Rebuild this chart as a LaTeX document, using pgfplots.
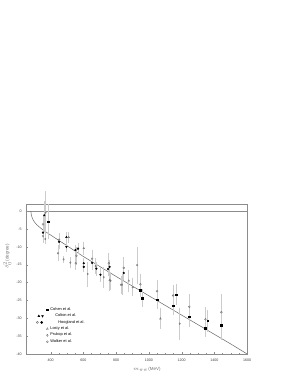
\documentclass[border=0pt]{standalone}
\usepackage{pgfplots}
\pgfplotsset{compat=1.18}
\usepackage{fontspec}
\setmainfont{Liberation Sans}
\definecolor{ebar}{gray}{0.8}
\definecolor{frame}{gray}{0.55}
\definecolor{opn}{gray}{0.45}
\begin{document}
\begin{tikzpicture}[x=1pt,y=1pt]
\path (0,0) rectangle (295,382);
\begin{axis}[
  at={(26pt,28pt)}, anchor=south west,
  width=221pt, height=150pt, scale only axis,
  xmin=250, xmax=1600, ymin=-40, ymax=2,
  xtick={400,600,...,1600}, ytick={0,-5,...,-40},
  minor x tick num=3, minor y tick num=4,
  tick pos=left, tick align=inside,
  major tick length=2pt, minor tick length=1pt,
  axis line style={frame, line width=0.4pt},
  every tick/.style={frame, line width=0.3pt},
  tick label style={font=\fontsize{3.6}{4}\selectfont, text=black!75},
  /pgf/number format/assume math mode=true,
  /pgf/number format/set thousands separator={},
  xticklabel style={yshift=-1pt},
  yticklabel style={xshift=-1pt},
  xlabel={$m_{\pi\pi}$(MeV)}, ylabel={$\delta_0^2$(degree)},
  label style={font=\fontsize{4.5}{5}\selectfont, text=black!55},
  xlabel style={at={(axis description cs:0.546,-0.1)}, anchor=center},
  ylabel style={at={(axis description cs:-0.085,0.65)}, anchor=center},
  clip=false,
  legend style={at={(rel axis cs:0.045,0.325)}, anchor=north west, draw=none, fill=none,
    font=\fontsize{3.9}{4.6}\selectfont, row sep=-1.9pt, inner sep=0pt},
  legend cell align=left,
  error bars/y dir=both, error bars/y explicit,
  error bars/error mark=none,
  error bars/error bar style={ebar, line width=0.8pt},
]
% legend entries
\addlegendimage{only marks, mark=square*, black, mark size=0.9pt}
\addlegendentry{Cohen et al.}
\addlegendimage{legend image code/.code={
  \draw[black,fill=black] plot[mark=triangle*,mark size=1.1pt] coordinates {(0.0cm,0cm)};
  \draw[black,fill=black] plot[mark=triangle*,mark size=1.1pt,mark options={rotate=180}] coordinates {(0.13cm,0cm)};}}
\addlegendentry{\hspace{5pt}Colton et al.}
\addlegendimage{legend image code/.code={
  \draw[opn] plot[mark=o,mark size=1.1pt] coordinates {(-0.05cm,0cm)};
  \draw[black,fill=black] plot[mark=*,mark size=1.1pt] coordinates {(0.1cm,0cm)};}}
\addlegendentry{\hspace{8pt}Hoogland et al.}
\addlegendimage{only marks, mark=triangle, opn, mark size=1.2pt}
\addlegendentry{Losty et al.}
\addlegendimage{only marks, mark=diamond, opn, mark size=1.1pt}
\addlegendentry{Prukop et al.}
\addlegendimage{only marks, mark=o, opn, mark size=1.0pt}
\addlegendentry{Walker et al.}
% zero line
\addplot[frame, line width=0.4pt, forget plot] coordinates {(250,0) (1600,0)};
% theory curve
\addplot[black!60, line width=0.5pt, smooth, forget plot] coordinates {
(279.1,0) (281,-0.9) (285,-1.6) (292,-2.4) (300,-3.0) (315,-3.8) (335,-4.6) (360,-5.5)
(400,-6.7) (450,-8.2) (500,-9.7) (600,-12.7) (700,-15.5) (800,-18.3) (900,-21.0)
(1000,-23.7) (1100,-26.4) (1200,-29.1) (1300,-31.8) (1400,-34.5) (1500,-37.2) (1600,-40)};
% Walker (small open circles)
\addplot[only marks, mark=o, opn, mark size=0.85pt, forget plot] coordinates {
(445,-11.8) +- (0,2.2) (553,-14.6) +- (0,2.0) (675,-15.4) +- (0,2.2) (765,-19.5) +- (0,2.5)
(830,-20.6) +- (0,2.5) (901,-21.3) +- (0,2.5) (928,-15.1) +- (0,5.2)};
% Prukop (open diamonds)
\addplot[only marks, mark=diamond, opn, mark size=0.9pt, forget plot] coordinates {
(369,-0.4) +- (0,6) (353,-7.0) +- (0,2) (367,-7.8) +- (0,1.5) (479,-13.5) +- (0,1)
(520,-14.4) +- (0,1.5) (626,-17.6) +- (0,3.5) (724,-18.5) +- (0,3) (836,-20.6) +- (0,3)
(1188,-31.5) +- (0,4.5)};
% Losty (open triangles)
\addplot[only marks, mark=triangle, opn, mark size=1.0pt, forget plot] coordinates {
(510,-7.3) +- (0,1.5) (602,-10.4) +- (0,1.8) (761,-19.3) +- (0,3) (877,-19.5) +- (0,3)
(1070,-30.1) +- (0,3)};
% Hoogland open
\addplot[only marks, mark=o, opn, mark size=0.95pt, forget plot] coordinates {
(353,-3.7) +- (0,3) (451,-8.0) +- (0,2) (557,-12.5) +- (0,2.5) (653,-13.3) +- (0,2.5)
(755,-14.6) +- (0,3) (846,-15.9) +- (0,3) (948,-20.5) +- (0,3) (1050,-22.4) +- (0,3)
(1148,-23.6) +- (0,3) (1247,-26.8) +- (0,3.5) (1345,-30.3) +- (0,3.5) (1443,-28.3) +- (0,5)};
% Hoogland filled
\addplot[only marks, mark=*, black, mark size=0.9pt, forget plot] coordinates {
(353,-6.0) +- (0,2) (451,-8.6) +- (0,2) (551,-10.9) +- (0,1.5) (567,-10.5) +- (0,1.5)
(602,-14.6) +- (0,1.5) (602,-15.6) +- (0,1.5) (653,-14.5) +- (0,2) (679,-16.1) +- (0,2)
(704,-17.8) +- (0,2) (750,-16.2) +- (0,2) (760,-15.6) +- (0,2) (846,-17.3) +- (0,2)};
% Cohen (filled squares)
\addplot[only marks, mark=square*, black, mark size=0.8pt, forget plot] coordinates {
(384,-2.9) +- (0,5) (948,-22.1) +- (0,2) (958,-24.4) +- (0,2.5) (1050,-24.8) +- (0,2.5)
(1148,-26.5) +- (0,2.5) (1166,-23.4) +- (0,3) (1247,-29.5) +- (0,3) (1345,-32.8) +- (0,2.5)
(1359,-30.7) +- (0,3) (1443,-32.0) +- (0,4)};
% Colton
\addplot[only marks, mark=triangle*, black, mark size=1.0pt, forget plot] coordinates {
(361,-1.2) +- (0,4) (496,-7.3) +- (0,1.5)};
\addplot[only marks, mark=triangle*, black, mark size=1.0pt, mark options={rotate=180}, forget plot] coordinates {
(496,-10.0) +- (0,1.5)};
\end{axis}
\end{tikzpicture}
\end{document}
